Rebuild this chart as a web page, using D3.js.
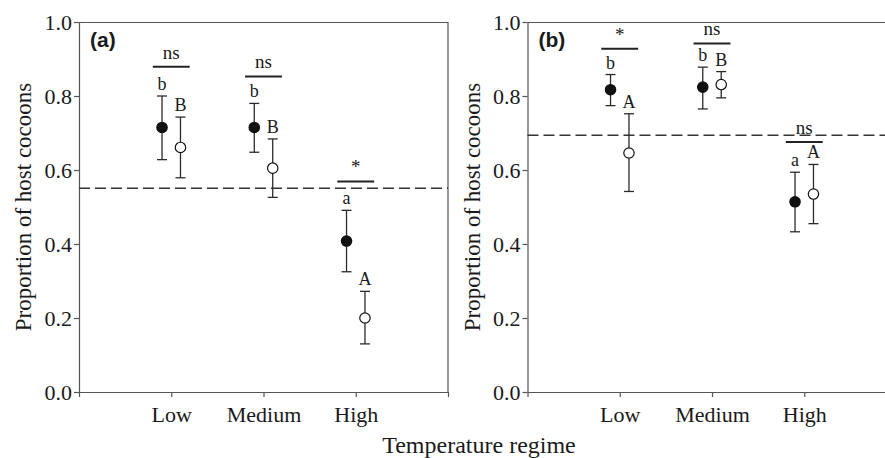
<!DOCTYPE html>
<html>
<head>
<meta charset="utf-8">
<script src="https://cdn.jsdelivr.net/npm/d3@7"></script>
<style>
  body { margin: 0; background: #fff; }
  svg text { font-family: "Liberation Serif", "Times New Roman", serif; }
</style>
</head>
<body>
<div id="chart"></div>
<script>
// Data
const categories = ["Low", "Medium", "High"];
const yTicks = [0, 0.2, 0.4, 0.6, 0.8, 1.0];

// panel (a)
const aFilledMean = [0.715, 0.715, 0.408];
const aFilledUpper = [0.80, 0.78, 0.491];
const aFilledLower = [0.628, 0.648, 0.325];
const aOpenMean = [0.661, 0.605, 0.20];
const aOpenUpper = [0.743, 0.684, 0.272];
const aOpenLower = [0.579, 0.526, 0.13];
const aFilledLetters = ["b", "b", "a"];
const aOpenLetters = ["B", "B", "A"];
const aSig = ["ns", "ns", "*"];
const aSigLevel = [0.879, 0.853, 0.569];
const aRef = 0.551;

// panel (b)
const bFilledMean = [0.817, 0.824, 0.514];
const bFilledUpper = [0.858, 0.878, 0.594];
const bFilledLower = [0.774, 0.765, 0.433];
const bOpenMean = [0.646, 0.831, 0.535];
const bOpenUpper = [0.752, 0.866, 0.615];
const bOpenLower = [0.542, 0.795, 0.455];
const bFilledLetters = ["b", "b", "a"];
const bOpenLetters = ["A", "B", "A"];
const bSig = ["*", "ns", "ns"];
const bSigLevel = [0.928, 0.942, 0.676];
const bRef = 0.694;

const panels = [
  { label: "(a)", left: 79, labelX: 31, filled: [aFilledMean, aFilledUpper, aFilledLower], open: [aOpenMean, aOpenUpper, aOpenLower],
    fLetters: aFilledLetters, oLetters: aOpenLetters, sig: aSig, sigLevel: aSigLevel, ref: aRef },
  { label: "(b)", left: 527.5, labelX: 480, filled: [bFilledMean, bFilledUpper, bFilledLower], open: [bOpenMean, bOpenUpper, bOpenLower],
    fLetters: bFilledLetters, oLetters: bOpenLetters, sig: bSig, sigLevel: bSigLevel, ref: bRef },
];

// Dimensions
const dimensions = { width: 885, height: 458, top: 22, ctrWidth: 369, ctrHeight: 370 };
const serif = "'Liberation Serif', 'Times New Roman', serif";
const sans = "'Liberation Sans', Arial, sans-serif";

const svg = d3.select("#chart").append("svg")
  .attr("width", dimensions.width)
  .attr("height", dimensions.height);

const xScale = d3.scaleLinear().domain([0, 4]).range([0, dimensions.ctrWidth]);
const yScale = d3.scaleLinear().domain([0, 1]).range([dimensions.ctrHeight, 0]);
const offset = 0.1;
const lineColor = "#2b2b2b";
const axisColor = "#555";
const textColor = "#1a1a1a";

panels.forEach((p) => {
  const ctr = svg.append("g").attr("transform", `translate(${p.left}, ${dimensions.top})`);

  // frame top and right
  ctr.append("path")
    .attr("d", `M0,0.5H${dimensions.ctrWidth}V${dimensions.ctrHeight}`)
    .attr("fill", "none").attr("stroke", axisColor).attr("stroke-width", 1.2);

  // axes
  const xAxis = d3.axisBottom(xScale).tickValues([1, 2, 3])
    .tickFormat((d) => categories[d - 1]).tickSizeInner(5).tickSizeOuter(5).tickPadding(9);
  const yAxis = d3.axisLeft(yScale).tickValues(yTicks)
    .tickFormat(d3.format(".1f")).tickSizeInner(5).tickSizeOuter(0).tickPadding(2);

  const xg = ctr.append("g").attr("transform", `translate(0, ${dimensions.ctrHeight})`).call(xAxis);
  const yg = ctr.append("g").call(yAxis);
  [xg, yg].forEach((g) => {
    g.attr("font-family", null).attr("font-size", null);
    g.selectAll("path, line").attr("stroke", axisColor).attr("stroke-width", 1.2);
    g.selectAll("text").style("font-size", "22px").style("font-family", serif).attr("fill", textColor);
  });

  // y label
  ctr.append("text")
    .attr("transform", `translate(${p.labelX - p.left}, ${dimensions.ctrHeight / 2}) rotate(-90)`)
    .attr("text-anchor", "middle")
    .style("font-family", serif).style("font-size", "23px").attr("fill", textColor)
    .text("Proportion of host cocoons");

  // reference dashed line
  ctr.append("line")
    .attr("x1", 0).attr("x2", dimensions.ctrWidth)
    .attr("y1", yScale(p.ref)).attr("y2", yScale(p.ref))
    .attr("stroke", "#333").attr("stroke-width", 1.5).attr("stroke-dasharray", "11,5");

  // panel label
  ctr.append("text")
    .attr("x", 11).attr("y", 25)
    .style("font-family", sans).style("font-weight", "bold").style("font-size", "21px")
    .attr("fill", textColor)
    .text(p.label);

  // series
  const series = [
    { vals: p.filled, dx: -offset, fill: "#111", letters: p.fLetters },
    { vals: p.open, dx: offset, fill: "#fff", letters: p.oLetters },
  ];
  series.forEach((s) => {
    const rows = categories.map((c, i) => ({ x: i + 1 + s.dx, m: s.vals[0][i], hi: s.vals[1][i], lo: s.vals[2][i], l: s.letters[i] }));
    const g = ctr.append("g");
    g.selectAll(".bar").data(rows).join("line")
      .attr("x1", (d) => xScale(d.x)).attr("x2", (d) => xScale(d.x))
      .attr("y1", (d) => yScale(d.hi)).attr("y2", (d) => yScale(d.lo))
      .attr("stroke", lineColor).attr("stroke-width", 1.3);
    ["hi", "lo"].forEach((k) => {
      g.selectAll(".cap-" + k).data(rows).join("line")
        .attr("x1", (d) => xScale(d.x) - 5).attr("x2", (d) => xScale(d.x) + 5)
        .attr("y1", (d) => yScale(d[k])).attr("y2", (d) => yScale(d[k]))
        .attr("stroke", lineColor).attr("stroke-width", 1.3);
    });
    g.selectAll("circle").data(rows).join("circle")
      .attr("cx", (d) => xScale(d.x)).attr("cy", (d) => yScale(d.m))
      .attr("r", 5.2).attr("fill", s.fill).attr("stroke", "#111").attr("stroke-width", 1.2);
    g.selectAll("text").data(rows).join("text")
      .attr("x", (d) => xScale(d.x)).attr("y", (d) => yScale(d.hi) - 6)
      .attr("text-anchor", "middle")
      .style("font-family", serif).style("font-size", "18px").attr("fill", textColor)
      .text((d) => d.l);
  });

  // significance bars
  const sigRows = categories.map((c, i) => ({ x: i + 1, y: p.sigLevel[i], t: p.sig[i] }));
  ctr.selectAll(".sig").data(sigRows).join("line")
    .attr("x1", (d) => xScale(d.x - 0.2)).attr("x2", (d) => xScale(d.x + 0.2))
    .attr("y1", (d) => yScale(d.y)).attr("y2", (d) => yScale(d.y))
    .attr("stroke", "#222").attr("stroke-width", 2);
  ctr.selectAll(".sigtext").data(sigRows).join("text")
    .attr("x", (d) => xScale(d.x)).attr("y", (d) => yScale(d.y) - 8)
    .attr("text-anchor", "middle")
    .style("font-family", serif).style("font-size", "19px").attr("fill", textColor)
    .text((d) => d.t);
});

// x title
svg.append("text")
  .attr("x", 479).attr("y", 453)
  .attr("text-anchor", "middle")
  .style("font-family", serif).style("font-size", "24px").attr("fill", textColor)
  .text("Temperature regime");
</script>
</body>
</html>
